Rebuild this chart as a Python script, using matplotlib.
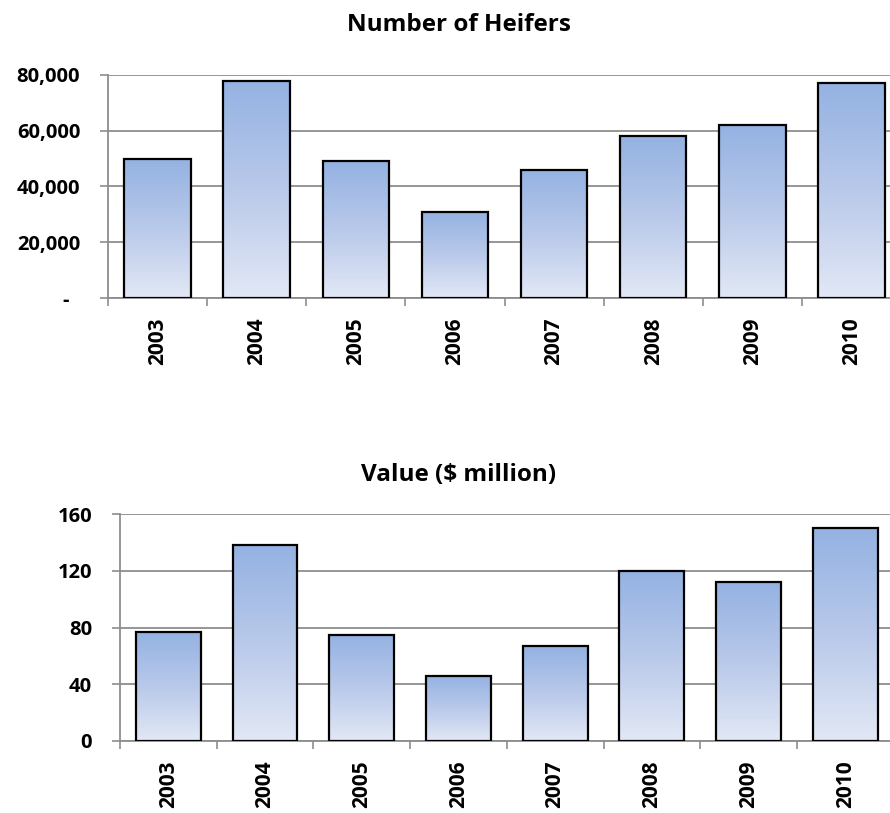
import matplotlib
matplotlib.use("Agg")
import matplotlib.pyplot as plt
import numpy as np
from matplotlib.colors import LinearSegmentedColormap
from matplotlib.ticker import FuncFormatter

plt.rcParams['font.family'] = ['Open Sans', 'DejaVu Sans']
plt.rcParams['font.weight'] = 'bold'

years = ['2003', '2004', '2005', '2006', '2007', '2008', '2009', '2010']
heifers = [50000, 78000, 49000, 31000, 46000, 58000, 62000, 77000]
value_musd = [77, 138, 75, 46, 67, 120, 112, 150]

heifer_ticks = [0, 20000, 40000, 60000, 80000]
value_ticks = [0, 40, 80, 120, 160]

W, H = 890, 813
fig = plt.figure(figsize=(W / 100, H / 100), dpi=100)

cmap = LinearSegmentedColormap.from_list('grad', ['#E2E8F5', '#B9C9EA', '#94B2E2'])
grid_c = '#8E8E8E'


def px_axes(left, right, top, bottom):
    return fig.add_axes([left / W, 1 - bottom / H, (right - left) / W, (bottom - top) / H])


def draw(ax, vals, ticks, fmt, title, title_y):
    x = np.arange(len(years))
    bars = ax.bar(x, vals, width=0.67, facecolor='none', edgecolor='black', linewidth=1.6, zorder=3)
    grad = np.linspace(0, 1, 256).reshape(-1, 1)
    for b in bars:
        x0, y0 = b.get_x(), b.get_y()
        im = ax.imshow(grad, cmap=cmap, origin='lower', aspect='auto',
                       extent=(x0, x0 + b.get_width(), y0, y0 + b.get_height()), zorder=2)
        im.set_clip_path(b)
    ax.set_xlim(-0.5, len(years) - 0.5)
    ax.set_ylim(ticks[0], ticks[-1])
    ax.set_yticks(ticks)
    ax.yaxis.set_major_formatter(FuncFormatter(fmt))
    ax.set_xticks(x)
    ax.set_xticklabels(years, rotation=90, fontsize=15, fontweight='bold')
    ax.set_xticks(np.arange(-0.5, len(years)), minor=True)
    ax.tick_params(axis='x', which='major', length=0, pad=14)
    ax.tick_params(axis='x', which='minor', length=6, width=1.2, color=grid_c, direction='out')
    ax.tick_params(axis='y', length=6, width=1.2, color=grid_c, pad=14, labelsize=14.5)
    for lab in ax.get_yticklabels():
        lab.set_fontweight('bold')
    ax.grid(axis='y', color=grid_c, linewidth=1.3, zorder=1)
    ax.set_axisbelow(True)
    for s in ['top', 'right']:
        ax.spines[s].set_visible(False)
    for s in ['left', 'bottom']:
        ax.spines[s].set_color(grid_c)
        ax.spines[s].set_linewidth(1.3)
    fig.text(459 / W, 1 - title_y / H, title, ha='center', va='center',
             fontsize=17.5, fontweight='bold')


ax1 = px_axes(108, 901, 75, 298)
draw(ax1, heifers, heifer_ticks,
     lambda v, p: '-  ' if v == 0 else f'{int(v):,}', 'Number of Heifers', 25)

ax2 = px_axes(120, 893.6, 514.3, 740.7)
draw(ax2, value_musd, value_ticks,
     lambda v, p: f'{int(v)}', 'Value ($ million)', 475)

fig.savefig('out.png', dpi=100)
